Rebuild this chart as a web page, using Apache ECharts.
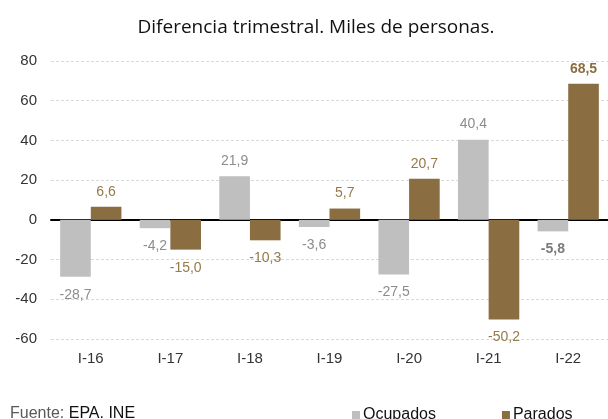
<!DOCTYPE html>
<html>
<head>
<meta charset="utf-8">
<script src="https://cdn.jsdelivr.net/npm/echarts@6/dist/echarts.min.js"></script>
<style>
  html, body { margin: 0; padding: 0; background: #fff; }
  #chart { width: 608px; height: 419px; }
</style>
</head>
<body>
<div id="chart"></div>
<script>
// datos
const categories = ['I-16', 'I-17', 'I-18', 'I-19', 'I-20', 'I-21', 'I-22'];
const ocupados = [-28.7, -4.2, 21.9, -3.6, -27.5, 40.4, -5.8];
const parados = [6.6, -15.0, -10.3, 5.7, 20.7, -50.2, 68.5];
const yTicks = { min: -60, max: 80, interval: 20 };

const GRAY = '#bfbfbf';
const BROWN = '#8a6e42';
const fmt = v => v.toFixed(1).replace('.', ',');

// positivo: etiqueta arriba; negativo: debajo; el último en negrita
function withLabels(values, labelColor, boldColor) {
  return values.map((v, i) => {
    const last = i === values.length - 1;
    return {
      value: v,
      label: {
        position: v >= 0 ? 'top' : 'bottom',
        distance: v >= 0 ? 8 : 11,
        color: last ? boldColor : labelColor,
        fontWeight: last ? 'bold' : 'normal'
      }
    };
  });
}

const barLabel = {
  show: true,
  fontFamily: 'Liberation Sans',
  fontSize: 14,
  formatter: p => fmt(p.value)
};

const chart = echarts.init(document.getElementById('chart'));

const option = {
  animation: false,
  backgroundColor: '#fff',
  title: [
    {
      text: 'Diferencia trimestral. Miles de personas.',
      left: 316,
      textAlign: 'center',
      top: 18,
      padding: 0,
      textStyle: { fontFamily: 'Open Sans', fontSize: 19, fontWeight: 'normal', color: '#111' }
    },
    {
      text: '{a|Fuente: }{b|EPA. INE}',
      left: 5,
      top: 401,
      textStyle: {
        fontWeight: 'normal',
        rich: {
          a: { fontFamily: 'Liberation Sans', fontSize: 16, fontWeight: 'normal', color: '#595959' },
          b: { fontFamily: 'Liberation Sans', fontSize: 16, fontWeight: 'normal', color: '#111' }
        }
      }
    }
  ],
  legend: {
    data: ['Ocupados', 'Parados'],
    left: 347,
    top: 402,
    icon: 'rect',
    itemWidth: 8,
    itemHeight: 8,
    itemGap: 66,
    textStyle: { fontFamily: 'Liberation Sans', fontSize: 16, color: '#111', padding: [0, 0, 0, -2] }
  },
  grid: { left: 51, top: 61, width: 563, height: 278 },
  // eje 0: línea negra en el cero; eje 1: etiquetas de categoría al pie
  xAxis: [
    {
      type: 'category',
      data: categories,
      axisLine: { onZero: true, lineStyle: { color: '#000', width: 2 } },
      axisTick: { show: false },
      axisLabel: { show: false }
    },
    {
      type: 'category',
      data: categories,
      position: 'bottom',
      axisLine: { show: false },
      axisTick: { show: false },
      axisLabel: { interval: 0, fontFamily: 'Liberation Sans', fontSize: 15, color: '#333', margin: 12 }
    }
  ],
  yAxis: {
    type: 'value',
    min: yTicks.min,
    max: yTicks.max,
    interval: yTicks.interval,
    axisLine: { show: false },
    axisTick: { show: false },
    axisLabel: { fontFamily: 'Liberation Sans', fontSize: 15, color: '#333', margin: 14 },
    splitLine: { lineStyle: { color: '#d6dcdc', type: [3, 2], width: 1 } }
  },
  series: [
    {
      name: 'Ocupados',
      type: 'bar',
      barGap: '0%',
      barCategoryGap: '23%',
      itemStyle: { color: GRAY },
      label: barLabel,
      data: withLabels(ocupados, '#8c8c8c', '#7a7a7a')
    },
    {
      name: 'Parados',
      type: 'bar',
      barGap: '0%',
      barCategoryGap: '23%',
      itemStyle: { color: BROWN },
      label: barLabel,
      data: withLabels(parados, '#957a4b', '#8a6e42')
    }
  ]
};

chart.setOption(option);
</script>
</body>
</html>
